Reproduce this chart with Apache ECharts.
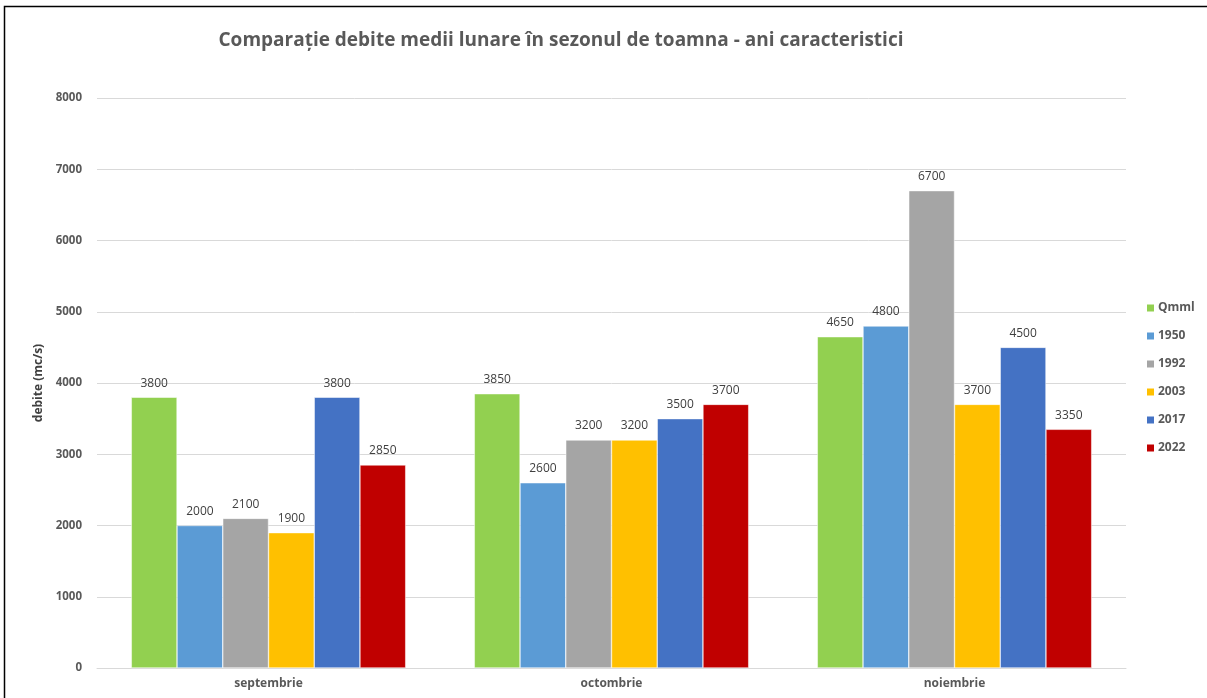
<!DOCTYPE html>
<html><head><meta charset="utf-8">
<script src="https://cdn.jsdelivr.net/npm/echarts@6/dist/echarts.min.js"></script>
<style>html,body{margin:0;padding:0;background:#fff;}#c{width:1207px;height:698px;}</style>
</head><body><div id="c"></div>
<script>
const categories = ['septembrie', 'octombrie', 'noiembrie'];
const seriesNames = ['Qmml', '1950', '1992', '2003', '2017', '2022'];
const qmml = [3800, 3850, 4650];
const y1950 = [2000, 2600, 4800];
const y1992 = [2100, 3200, 6700];
const y2003 = [1900, 3200, 3700];
const y2017 = [3800, 3500, 4500];
const y2022 = [2850, 3700, 3350];
const colors = ['#92D050', '#5B9BD5', '#A5A5A5', '#FFC000', '#4472C4', '#C00000'];
const allData = [qmml, y1950, y1992, y2003, y2017, y2022];

const chart = echarts.init(document.getElementById('c'));
const font = '"Open Sans", "Liberation Sans", sans-serif';
chart.setOption({
  animation: false,
  textStyle: {fontFamily: font},
  title: {
    text: 'Comparație debite medii lunare în sezonul de toamna - ani caracteristici',
    left: 556, top: 26, textAlign: 'center',
    textStyle: {fontFamily: font, fontSize: 19, fontWeight: 'bold', color: '#595959'}
  },
  legend: {
    orient: 'vertical', left: 1140, top: 295, itemGap: 12, itemWidth: 9, itemHeight: 9,
    icon: 'rect',
    textStyle: {fontFamily: font, fontSize: 12, fontWeight: 'bold', color: '#595959', lineHeight: 16, padding: [0,0,0,-2]},
    data: seriesNames
  },
  grid: {left: 97, right: 81, top: 98, bottom: 30},
  xAxis: {
    type: 'category', data: categories,
    axisLine: {lineStyle: {color: '#D9D9D9'}},
    axisTick: {show: false},
    axisLabel: {fontFamily: font, fontSize: 12, fontWeight: 'bold', color: '#595959', margin: 10}
  },
  yAxis: {
    type: 'value', min: 0, max: 8000, interval: 1000,
    name: 'debite (mc/s)', nameLocation: 'middle', nameGap: 52, nameRotate: 90, nameMoveOverlap: false,
    nameTextStyle: {fontFamily: font, fontSize: 12, fontWeight: 'bold', color: '#404040'},
    axisLine: {show: false}, axisTick: {show: false},
    splitLine: {lineStyle: {color: '#D9D9D9'}},
    axisLabel: {fontFamily: font, fontSize: 11.5, fontWeight: 'bold', color: '#595959', margin: 15,
      formatter: v => String(v)}
  },
  series: seriesNames.map((n, i) => ({
    name: n, type: 'bar', data: allData[i],
    barGap: '0%', barCategoryGap: '20%',
    itemStyle: {color: colors[i], borderColor: '#fff', borderWidth: 0.5},
    label: {show: true, position: 'top', distance: 8, fontFamily: font, fontSize: 12, color: '#404040'}
  })),
  graphic: [{
    type: 'rect', shape: {x: 4.5, y: 6.5, width: 1300, height: 800},
    style: {fill: 'none', stroke: '#000', lineWidth: 1.5}, silent: true
  }]
});
</script></body></html>
